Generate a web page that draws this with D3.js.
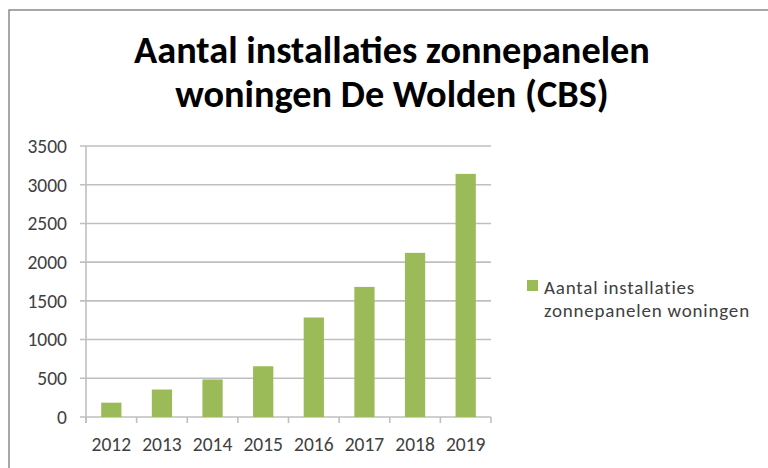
<!DOCTYPE html>
<html lang="nl">
<head>
<meta charset="utf-8">
<title>Aantal installaties zonnepanelen woningen De Wolden (CBS)</title>
<script src="https://cdn.jsdelivr.net/npm/d3@7"></script>
<style>
  body { margin: 0; background: #fff; }
  svg { display: block; }
</style>
</head>
<body>
<div class="chart"></div>
<script>
// data
const years = ["2012", "2013", "2014", "2015", "2016", "2017", "2018", "2019"];
const installs = [185, 355, 485, 655, 1285, 1680, 2120, 3140];
const yTicks = [0, 500, 1000, 1500, 2000, 2500, 3000, 3500];
const titleLines = ["Aantal installaties zonnepanelen", "woningen De Wolden (CBS)"];
const legendLines = ["Aantal installaties", "zonnepanelen woningen"];

const W = 768, H = 468;
const font = "Calibri, Carlito, 'Open Sans', sans-serif";
const barColor = "#9bbb59";
const gridColor = "#bfbfbf";
const textColor = "#404040";

svg = d3.select(".chart")
    .append("svg")
    .attr("width", W)
    .attr("height", H);

svg.append("rect")
    .attr("width", W)
    .attr("height", H)
    .attr("fill", "white");

// chart border (only top and left are visible in the picture)
svg.append("path")
    .attr("d", `M9,${H} L9,10 L${W},10`)
    .attr("fill", "none")
    .attr("stroke", "#8a8a8a")
    .attr("stroke-width", 1.5);

// title
title = svg.append("g")
    .attr("font-family", font)
    .attr("font-weight", "bold")
    .attr("fill", "#000")
    .attr("text-anchor", "middle");

title.selectAll("text")
    .data(titleLines)
    .join("text")
    .attr("x", 392)
    .attr("y", (d, i) => 63 + i * 44)
    .attr("font-size", "35px")
    .text(d => d);

// first line should be about 516px wide, scale the font to that
let tw = title.select("text").node().getComputedTextLength();
title.selectAll("text").attr("font-size", (35 * 516 / tw) + "px");

const x = d3.scaleBand()
    .domain(years)
    .range([86, 491])
    .paddingInner(0.6)
    .paddingOuter(0.3);

const y = d3.scaleLinear()
    .domain([0, 3500])
    .range([417, 146]);

// gridlines
svg.append("g")
    .selectAll("line")
    .data(yTicks)
    .join("line")
    .attr("x1", 80)
    .attr("x2", 491)
    .attr("y1", d => y(d))
    .attr("y2", d => y(d))
    .attr("stroke", gridColor)
    .attr("stroke-width", 1.6);

// y axis line
svg.append("line")
    .attr("x1", 86)
    .attr("x2", 86)
    .attr("y1", y(3500))
    .attr("y2", y(0) + 6)
    .attr("stroke", gridColor)
    .attr("stroke-width", 1.6);

// x tick marks at category boundaries
svg.append("g")
    .selectAll("line")
    .data(d3.range(years.length + 1))
    .join("line")
    .attr("x1", i => 86 + i * x.step())
    .attr("x2", i => 86 + i * x.step())
    .attr("y1", y(0))
    .attr("y2", y(0) + 6)
    .attr("stroke", gridColor)
    .attr("stroke-width", 1.6);

// bars
svg.append("g")
    .attr("fill", barColor)
    .selectAll("rect")
    .data(installs)
    .join("rect")
    .attr("x", (d, i) => x(years[i]))
    .attr("width", x.bandwidth())
    .attr("y", d => y(d))
    .attr("height", d => y(0) - y(d));

// y labels
svg.append("g")
    .attr("font-family", font)
    .attr("font-size", "19.5px")
    .attr("fill", textColor)
    .attr("text-anchor", "end")
    .selectAll("text")
    .data(yTicks)
    .join("text")
    .attr("x", 67)
    .attr("y", d => y(d))
    .attr("dy", "0.35em")
    .text(d => d);

// x labels
svg.append("g")
    .attr("font-family", font)
    .attr("font-size", "19.5px")
    .attr("fill", textColor)
    .attr("text-anchor", "middle")
    .selectAll("text")
    .data(years)
    .join("text")
    .attr("x", d => x(d) + x.bandwidth() / 2)
    .attr("y", 451)
    .text(d => d);

// legend
legend = svg.append("g")
    .attr("transform", "translate(527, 280)");

legend.append("rect")
    .attr("width", 11)
    .attr("height", 11)
    .attr("fill", barColor);

legend.append("g")
    .attr("font-family", font)
    .attr("font-size", "19px")
    .attr("letter-spacing", "0.8px")
    .attr("fill", textColor)
    .selectAll("text")
    .data(legendLines)
    .join("text")
    .attr("x", 17)
    .attr("y", (d, i) => 13.5 + i * 23.5)
    .text(d => d);
</script>
</body>
</html>
